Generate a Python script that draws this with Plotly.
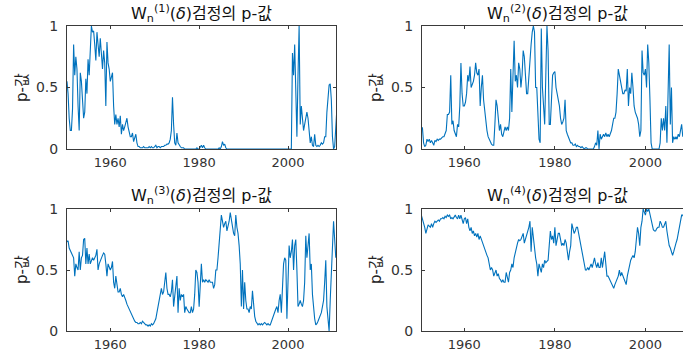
import numpy as np
import plotly.graph_objects as go

# Quarterly p-values of the four W_n(delta) tests.
# Each list starts at its own first quarter and steps by 0.25 year.
w1_start = 1950.25
w1_pvalues = [
    0.55, 0.45, 0.25,
    0.15, 0.15, 0.32, 0.85,
    0.60, 0.75, 0.65, 0.35,
    0.15, 0.62, 0.55, 0.40,
    0.25, 0.30, 0.57, 0.45,
    0.73, 0.60, 0.90, 1.00,
    0.95, 0.96, 0.85, 0.72,
    0.95, 0.85, 0.75, 0.90,
    0.80, 0.65, 0.80, 0.70,
    0.35, 0.87, 0.70, 0.65,
    0.55, 0.60, 0.62, 0.35,
    0.20, 0.28, 0.20, 0.25,
    0.18, 0.27, 0.12, 0.20,
    0.15, 0.18, 0.22, 0.25,
    0.18, 0.15, 0.10, 0.10,
    0.13, 0.06, 0.10, 0.12,
    0.05, 0.02, 0.02, 0.01,
    0.01, 0.01, 0.02, 0.01,
    0.01, 0.01, 0.01, 0.02,
    0.01, 0.02, 0.01, 0.01,
    0.02, 0.03, 0.01, 0.02,
    0.02, 0.01, 0.02, 0.02,
    0.02, 0.03, 0.03, 0.04,
    0.04, 0.05, 0.08, 0.15,
    0.42, 0.20, 0.05, 0.03,
    0.13, 0.05, 0.03, 0.02,
    0.01, 0.01, 0.01, 0.00,
    0.00, 0.00, 0.00, 0.00,
    0.00, 0.00, 0.00, 0.00,
    0.00, 0.00, 0.01, 0.00,
    0.00, 0.02, 0.03, 0.01,
    0.03, 0.01, 0.00, 0.00,
    0.00, 0.00, 0.00, 0.00,
    0.00, 0.00, 0.00, 0.00,
    0.00, 0.00, 0.01, 0.00,
    0.02, 0.06, 0.03, 0.04,
    0.01, 0.00, 0.00, 0.00,
    0.00, 0.00, 0.00, 0.00,
    0.00, 0.00, 0.00, 0.00,
    0.00, 0.00, 0.00, 0.00,
    0.00, 0.00, 0.00, 0.00,
    0.00, 0.00, 0.00, 0.00,
    0.00, 0.00, 0.00, 0.00,
    0.00, 0.00, 0.00, 0.00,
    0.00, 0.00, 0.00, 0.00,
    0.00, 0.00, 0.00, 0.00,
    0.00, 0.00, 0.00, 0.00,
    0.00, 0.00, 0.00, 0.00,
    0.00, 0.00, 0.00, 0.00,
    0.00, 0.00, 0.00, 0.00,
    0.00, 0.00, 0.00, 0.00,
    0.78, 0.60, 0.85, 0.55,
    0.10, 0.60, 1.00, 0.20,
    0.35, 0.25, 0.15, 0.20,
    0.25, 0.30, 0.25, 0.10,
    0.05, 0.10, 0.03, 0.02,
    0.12, 0.03, 0.02, 0.03,
    0.02, 0.03, 0.05, 0.04,
    0.05, 0.10, 0.10, 0.30,
    0.45, 0.52, 0.53, 0.40,
    0.10, 0.00, 0.02, 0.15,
    0.33, 0.12, 0.83, 0.70,
]

w2_start = 1950.5
w2_pvalues = [
    0.18, 0.17,
    0.05, 0.02, 0.03, 0.08,
    0.06, 0.08, 0.05, 0.07,
    0.05, 0.03, 0.07, 0.06,
    0.08, 0.07, 0.08, 0.08,
    0.09, 0.10, 0.10, 0.12,
    0.15, 0.28, 0.28, 0.30,
    0.60, 0.20, 0.23, 0.15,
    0.12, 0.10, 0.20, 0.18,
    0.35, 0.70, 0.45, 0.35,
    0.35, 0.38, 0.45, 0.60,
    0.55, 0.67, 0.50, 0.52,
    0.55, 0.60, 0.70, 0.62,
    0.60, 0.65, 0.35, 0.50,
    0.60, 0.40, 0.30, 0.20,
    0.15, 0.10, 0.08, 0.05,
    0.04, 0.03, 0.03, 0.20,
    0.40, 0.35, 0.25, 0.15,
    0.20, 0.12, 0.10, 0.15,
    0.18, 0.15, 0.18, 0.15,
    0.25, 0.65, 0.30, 0.60,
    0.88, 0.55, 0.60, 0.50,
    0.70, 0.65, 0.50, 0.60,
    0.80, 0.75, 0.60, 0.45,
    0.45, 0.60, 0.70, 0.85,
    0.95, 1.00, 0.95, 0.50,
    0.50, 0.30, 0.08, 0.05,
    0.98, 0.50, 0.30, 0.20,
    0.60, 1.00, 0.80, 0.20,
    0.20, 0.45, 0.60, 0.62,
    0.63, 0.50, 0.45, 0.40,
    0.35, 0.25, 0.20, 0.22,
    0.25, 0.40, 0.15, 0.12,
    0.10, 0.08, 0.05, 0.05,
    0.03, 0.03, 0.04, 0.02,
    0.03, 0.02, 0.02, 0.01,
    0.02, 0.01, 0.00, 0.01,
    0.01, 0.00, 0.00, 0.00,
    0.00, 0.00, 0.00, 0.02,
    0.05, 0.03, 0.15, 0.00,
    0.12, 0.08, 0.10, 0.12,
    0.10, 0.13, 0.10, 0.12,
    0.10, 0.12, 0.15, 0.20,
    0.25, 0.25, 0.30, 0.45,
    0.65, 0.60, 0.55, 0.50,
    0.45, 0.45, 0.48, 0.47,
    0.65, 0.35, 0.50, 0.45,
    0.62, 0.50, 0.35, 0.30,
    0.28, 0.25, 0.20, 0.10,
    0.15, 0.80, 0.62, 0.60,
    0.65, 0.50, 0.85, 0.70,
    0.40, 0.05, 0.00, 0.00,
    0.00, 0.00, 0.00, 0.00,
    0.00, 0.05, 0.25, 0.15,
    0.25, 0.15, 0.35, 0.05,
    0.40, 0.85, 0.20, 0.50,
    0.05, 0.10, 0.08, 0.10,
    0.08, 0.12, 0.10, 0.15,
    0.20, 0.10, 0.15,
]

w3_start = 1950.25
w3_pvalues = [
    0.73, 0.74, 0.68,
    0.66, 0.65, 0.62, 0.60,
    0.45, 0.55, 0.52, 0.50,
    0.65, 0.50, 0.60, 0.62,
    0.75, 0.76, 0.55, 0.68,
    0.55, 0.63, 0.55, 0.58,
    0.60, 0.58, 0.60, 0.62,
    0.67, 0.50, 0.55, 0.58,
    0.60, 0.62, 0.64, 0.63,
    0.55, 0.45, 0.55, 0.52,
    0.50, 0.52, 0.57, 0.40,
    0.35, 0.45, 0.38, 0.32,
    0.32, 0.35, 0.30, 0.28,
    0.30, 0.28, 0.25, 0.22,
    0.20, 0.18, 0.15, 0.14,
    0.12, 0.10, 0.08, 0.07,
    0.07, 0.06, 0.06, 0.07,
    0.06, 0.08, 0.07, 0.06,
    0.05, 0.05, 0.04, 0.05,
    0.04, 0.06, 0.05, 0.06,
    0.08, 0.10, 0.15, 0.20,
    0.22, 0.28, 0.35, 0.30,
    0.32, 0.40, 0.48, 0.35,
    0.30, 0.30, 0.28, 0.32,
    0.42, 0.20, 0.30, 0.35,
    0.45, 0.15, 0.35, 0.25,
    0.30, 0.28, 0.30, 0.15,
    0.20, 0.18, 0.16, 0.15,
    0.15, 0.20, 0.15, 0.18,
    0.30, 0.50, 0.48, 0.40,
    0.20, 0.40, 0.55, 0.40,
    0.42, 0.40, 0.42, 0.41,
    0.40, 0.42, 0.40, 0.40,
    0.40, 0.35, 0.38, 0.50,
    0.50, 0.60, 0.75, 0.85,
    0.95, 0.90, 0.85, 0.88,
    0.90, 0.82, 0.85, 0.90,
    0.97, 0.90, 0.85, 0.80,
    0.78, 0.95, 0.85, 0.80,
    0.70, 0.55, 0.20, 0.50,
    0.18, 0.40, 0.25, 0.18,
    0.18, 0.15, 0.20, 0.18,
    0.33, 0.18, 0.12, 0.08,
    0.06, 0.05, 0.06, 0.05,
    0.06, 0.05, 0.06, 0.07,
    0.06, 0.05, 0.06, 0.05,
    0.05, 0.08, 0.10, 0.12,
    0.15, 0.18, 0.20, 0.15,
    0.25, 0.30, 0.15, 0.35,
    0.55, 0.60, 0.58, 0.10,
    0.40, 0.70, 0.60, 0.65,
    0.75, 0.50, 0.70, 0.75,
    0.50, 0.20, 0.22, 0.25,
    0.22, 0.20, 0.25, 0.40,
    0.78, 0.60, 0.70, 0.80,
    0.50, 0.55, 0.30, 0.15,
    0.10, 0.05, 0.06, 0.08,
    0.10, 0.12, 0.15, 0.20,
    0.25, 0.40, 0.58, 0.20,
    0.05, 0.00, 0.25, 0.50,
    0.70, 0.90, 0.75, 0.60,
]

w4_start = 1950.5
w4_pvalues = [
    0.95, 0.92,
    0.88, 0.85, 0.80, 0.85,
    0.87, 0.86, 0.85, 0.88,
    0.85, 0.88, 0.90, 0.89,
    0.90, 0.91, 0.90, 0.92,
    0.92, 0.93, 0.92, 0.94,
    0.93, 0.95, 0.94, 0.95,
    0.92, 0.93, 0.92, 0.94,
    0.95, 0.93, 0.92, 0.95,
    0.92, 0.95, 0.90, 0.88,
    0.92, 0.93, 0.88, 0.92,
    0.85, 0.82, 0.85, 0.80,
    0.82, 0.78, 0.80, 0.77,
    0.80, 0.75, 0.78, 0.75,
    0.72, 0.70, 0.68, 0.65,
    0.62, 0.60, 0.55, 0.50,
    0.52, 0.50, 0.45, 0.48,
    0.50, 0.45, 0.47, 0.43,
    0.42, 0.40, 0.42, 0.40,
    0.40, 0.48, 0.45, 0.40,
    0.48, 0.50, 0.55, 0.52,
    0.60, 0.65, 0.70, 0.72,
    0.75, 0.74, 0.75, 0.78,
    0.80, 0.72, 0.75, 0.78,
    0.80, 0.85, 0.90, 0.65,
    0.85, 0.75, 0.65, 0.60,
    0.55, 0.45, 0.55, 0.50,
    0.48, 0.55, 0.52, 0.58,
    0.56, 0.57, 0.58, 0.70,
    0.82, 0.75, 0.78, 0.72,
    0.85, 0.70, 0.75, 0.80,
    0.80, 0.75, 0.70, 0.72,
    0.70, 0.75, 0.72, 0.65,
    0.58, 0.65, 0.70, 0.88,
    0.85, 0.80, 0.82, 0.85,
    0.85, 0.80, 0.75, 0.70,
    0.65, 0.62, 0.55, 0.50,
    0.50, 0.52, 0.50, 0.52,
    0.55, 0.52, 0.55, 0.60,
    0.55, 0.52, 0.56, 0.52,
    0.52, 0.60, 0.52, 0.58,
    0.65, 0.55, 0.45, 0.45,
    0.43, 0.42, 0.40, 0.38,
    0.35, 0.38, 0.40, 0.42,
    0.45, 0.50, 0.45, 0.48,
    0.45, 0.42, 0.40, 0.38,
    0.45, 0.50, 0.55, 0.58,
    0.60, 0.62, 0.60, 0.65,
    0.75, 0.85, 0.80, 0.70,
    0.85, 0.90, 1.00, 0.97,
    0.95, 1.00, 0.98, 1.00,
    0.95, 0.90, 0.85, 0.83,
    0.82, 0.82, 0.84, 0.85,
    0.85, 0.90, 0.88, 0.85,
    0.85, 0.88, 0.90, 0.82,
    0.75, 0.70, 0.68, 0.65,
    0.62, 0.65, 0.70, 0.72,
    0.75, 0.80, 0.85, 0.90,
    0.95, 0.95, 0.93,
]

panel_titles = [
    "W<sub>n</sub><sup>(1)</sup>(<i>δ</i>)검정의 p-값",
    "W<sub>n</sub><sup>(2)</sup>(<i>δ</i>)검정의 p-값",
    "W<sub>n</sub><sup>(3)</sup>(<i>δ</i>)검정의 p-값",
    "W<sub>n</sub><sup>(4)</sup>(<i>δ</i>)검정의 p-값",
]
y_label = "p-값"
x_tick_values = [1960, 1980, 2000]
y_tick_values = [0, 0.5, 1]
y_tick_labels = ["0", "0.5", "1"]

W, H = 683, 354
LINE = "#0072BD"
AXC = "#3a3a3a"
XTICKFONT = dict(family="DejaVu Sans, Liberation Sans, sans-serif", size=13, color="#333333")
YTICKFONT = dict(family="DejaVu Sans, Liberation Sans, sans-serif", size=14, color="#333333")
TEXTFONT = "DejaVu Sans, Noto Sans CJK KR, sans-serif"

series = [
    (w1_start, w1_pvalues),
    (w2_start, w2_pvalues),
    (w3_start, w3_pvalues),
    (w4_start, w4_pvalues),
]

# pixel boxes of the four axes (left, right, top, bottom)
boxes = [
    (67, 336, 26, 149),
    (422, 683, 26, 149),
    (67, 336, 209, 331),
    (422, 683, 209, 331),
]
x_ranges = [
    [1950.26, 2010.8],
    [1950.65, 2008.3],
    [1950.26, 2010.8],
    [1950.65, 2008.3],
]
title_centers = [(201.5, 13), (557.5, 13), (201.5, 195), (557.5, 195)]
ylabel_centers = [(22, 88), (376, 88), (22, 270), (376, 270)]

fig = go.Figure()
layout = dict(
    width=W, height=H,
    margin=dict(l=0, r=0, t=0, b=0, autoexpand=False),
    paper_bgcolor="white", plot_bgcolor="white",
    showlegend=False,
    annotations=[],
)

for i, ((start, vals), box, xr) in enumerate(zip(series, boxes, x_ranges)):
    n = i + 1
    xs = start + 0.25 * np.arange(len(vals))
    fig.add_trace(go.Scatter(
        x=xs, y=vals, mode="lines",
        line=dict(color=LINE, width=1.1),
        xaxis=f"x{n}", yaxis=f"y{n}",
        hoverinfo="skip",
    ))
    left, right, top, bottom = box
    is_right = right >= W
    layout[f"xaxis{n}"] = dict(
        domain=[left / W, right / W],
        range=xr,
        anchor=f"y{n}",
        tickvals=x_tick_values,
        ticks="inside", ticklen=3, tickcolor=AXC,
        showline=True, linecolor=AXC, linewidth=1,
        mirror="ticks",
        showgrid=False, zeroline=False,
        tickfont=XTICKFONT,
        ticklabelstandoff=1,
        automargin=False,
        fixedrange=True,
    )
    layout[f"yaxis{n}"] = dict(
        domain=[1 - bottom / H, 1 - top / H],
        range=[0, 1],
        anchor=f"x{n}",
        tickvals=y_tick_values,
        ticktext=y_tick_labels,
        ticks="inside", ticklen=3, tickcolor=AXC,
        showline=True, linecolor=AXC, linewidth=1,
        mirror=False if is_right else "ticks",
        showgrid=False, zeroline=False,
        tickfont=YTICKFONT,
        ticklabelstandoff=5,
        automargin=False,
        fixedrange=True,
    )
    tx, ty = title_centers[i]
    layout["annotations"].append(dict(
        text=panel_titles[i], x=tx / W, y=1 - ty / H,
        xref="paper", yref="paper", xanchor="center", yanchor="middle",
        showarrow=False,
        font=dict(family=TEXTFONT, size=16, color="#111111"),
    ))
    lx, ly = ylabel_centers[i]
    layout["annotations"].append(dict(
        text=y_label, x=lx / W, y=1 - ly / H,
        xref="paper", yref="paper", xanchor="center", yanchor="middle",
        textangle=-90, showarrow=False,
        font=dict(family=TEXTFONT, size=15, color="#222222"),
    ))

fig.update_layout(**layout)
fig.write_html("out.html", config={"displayModeBar": False})
